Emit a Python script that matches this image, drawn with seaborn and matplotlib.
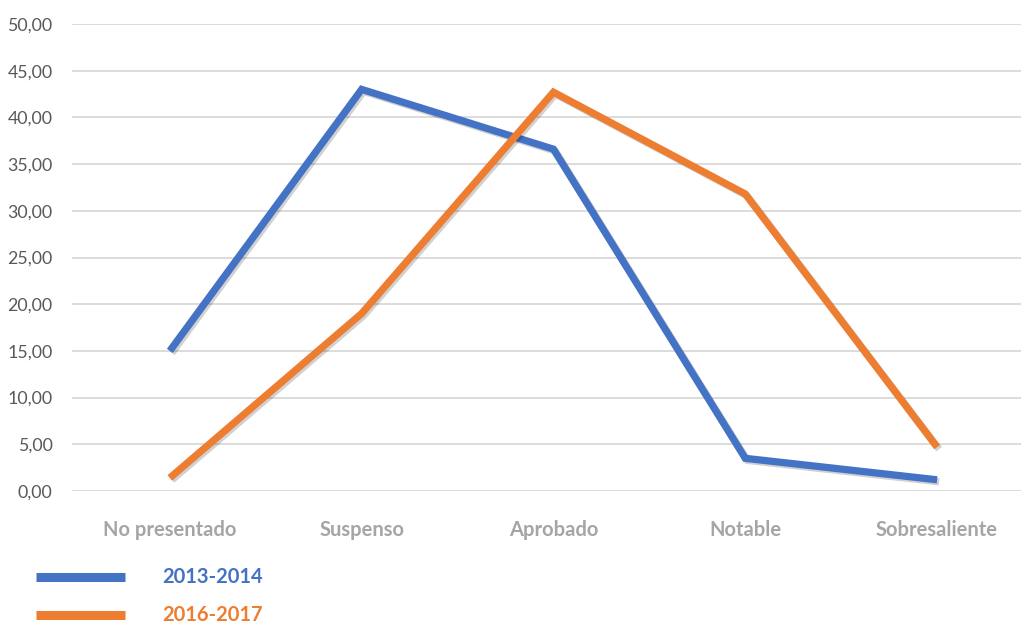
import matplotlib
matplotlib.use("Agg")
import matplotlib.pyplot as plt
import matplotlib.patheffects as pe
from matplotlib.lines import Line2D
import seaborn as sns
import pandas as pd

categories = ["No presentado", "Suspenso", "Aprobado", "Notable", "Sobresaliente"]
series_names = ["2013-2014", "2016-2017"]
values_2013_2014 = [15.0, 43.0, 36.6, 3.5, 1.2]
values_2016_2017 = [1.4, 19.0, 42.7, 31.8, 4.7]
y_ticks = [0, 5, 10, 15, 20, 25, 30, 35, 40, 45, 50]

colors = {"2013-2014": "#4472C4", "2016-2017": "#ED7D31"}

df = pd.DataFrame({
    "categoria": categories * 2,
    "x": list(range(len(categories))) * 2,
    "valor": values_2013_2014 + values_2016_2017,
    "curso": [series_names[0]] * len(categories) + [series_names[1]] * len(categories),
})

sns.set_theme(style="white")
plt.rcParams["font.family"] = ["Lato", "DejaVu Sans"]

W, H = 1021, 623
fig = plt.figure(figsize=(W / 100, H / 100), dpi=100)
ax = fig.add_axes([72 / W, 1 - 491 / H, (1033 - 72) / W, (491 - 24) / H])

sns.lineplot(
    data=df, x="x", y="valor", hue="curso", palette=colors,
    linewidth=5.2, ax=ax, legend=False, sort=False,
)
for line in ax.get_lines():
    line.set_solid_joinstyle("miter")
    line.set_solid_capstyle("butt")
    line.set_path_effects([
        pe.SimpleLineShadow(offset=(1.5, -1.5), alpha=0.18, shadow_color="black"),
        pe.Normal(),
    ])

ax.set_xlim(-0.51, 4.5)
ax.set_ylim(0, 50)
ax.set_yticks(y_ticks)
ax.set_yticklabels([f"{v:.2f}".replace(".", ",") for v in y_ticks],
                   color="#595959", fontsize=12.8)
ax.set_xticks(range(len(categories)))
ax.set_xticklabels(categories, color="#A5A5A5", fontsize=14.5, fontweight="bold")
ax.tick_params(axis="x", pad=21, length=0)
ax.tick_params(axis="y", pad=14, length=0)
ax.set_xlabel("")
ax.set_ylabel("")
ax.grid(axis="y", color="#D9D9D9", linewidth=1.3)
ax.set_axisbelow(True)
for s in ax.spines.values():
    s.set_visible(False)

# Legend drawn below the plot
for i, name in enumerate(series_names):
    yy = 1 - (577 + 38 * i) / H
    fig.add_artist(Line2D([36 / W, 125 / W], [yy, yy], color=colors[name],
                          linewidth=6.5, solid_capstyle="butt",
                          transform=fig.transFigure))
    fig.text(162 / W, yy, name, color=colors[name], fontsize=14.5,
             fontweight="bold", va="center", ha="left")

fig.savefig("out.png", dpi=100, facecolor="white")
